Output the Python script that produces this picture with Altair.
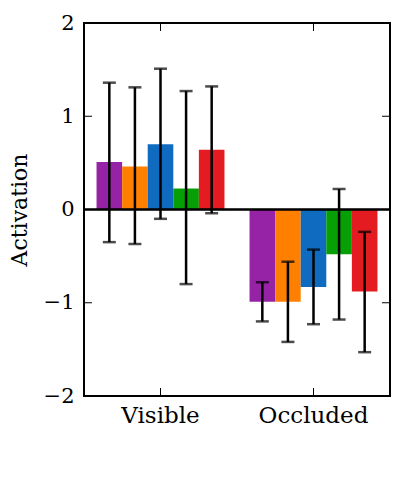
import altair as alt
import pandas as pd

groups = ["Visible", "Occluded"]
series = ["s1", "s2", "s3", "s4", "s5"]
colors = ["#9622a6", "#ff8000", "#0f6bbf", "#06a006", "#e41c21"]

visible_vals = [0.51, 0.46, 0.70, 0.225, 0.64]
visible_lo = [-0.35, -0.37, -0.10, -0.80, -0.04]
visible_hi = [1.36, 1.31, 1.51, 1.27, 1.32]

occluded_vals = [-0.99, -0.99, -0.83, -0.48, -0.88]
occluded_lo = [-1.20, -1.42, -1.23, -1.18, -1.53]
occluded_hi = [-0.78, -0.56, -0.43, 0.22, -0.24]

y_ticks = [-2, -1, 0, 1, 2]

rows = []
for g, vals, los, his in [("Visible", visible_vals, visible_lo, visible_hi),
                          ("Occluded", occluded_vals, occluded_lo, occluded_hi)]:
    for s, v, lo, hi in zip(series, vals, los, his):
        rows.append({"group": g, "series": s, "value": v, "lo": lo, "hi": hi})
df = pd.DataFrame(rows)
ticks_df = pd.DataFrame({"t": y_ticks})
groups_df = pd.DataFrame({"group": groups})

W, H = 306, 373
FONT = "DejaVu Serif"

x_enc = alt.X("group:N", sort=groups,
              scale=alt.Scale(paddingInner=0, paddingOuter=0),
              axis=alt.Axis(title=None, labelAngle=0, labelPadding=8,
                            labelFontSize=23))
xo_enc = alt.XOffset("series:N", sort=series,
                     scale=alt.Scale(paddingInner=0, paddingOuter=0.49))
y_scale = alt.Scale(domain=[-2, 2], nice=False, zero=False)

base = alt.Chart(df)

bars = base.mark_bar().encode(
    x=x_enc,
    xOffset=xo_enc,
    y=alt.Y("value:Q", scale=y_scale,
            axis=alt.Axis(title="Activation", values=y_ticks, format="d",
                          labelPadding=10, titlePadding=12, labelFontSize=21,
                          titleFontSize=22, titleFontWeight="normal")),
    color=alt.Color("series:N", scale=alt.Scale(domain=series, range=colors),
                    legend=None),
)

zero = alt.Chart(ticks_df).mark_rule(color="black", strokeWidth=1.5).encode(
    y=alt.datum(0)
)

err = base.mark_rule(color="black", strokeWidth=2.5).encode(
    x=alt.X("group:N", sort=groups),
    xOffset=alt.XOffset("series:N", sort=series),
    y=alt.Y("lo:Q", scale=y_scale),
    y2="hi:Q",
)
cap_lo = base.mark_tick(color="black", size=13, thickness=2.5).encode(
    x=alt.X("group:N", sort=groups),
    xOffset=alt.XOffset("series:N", sort=series),
    y=alt.Y("lo:Q", scale=y_scale),
)
cap_hi = base.mark_tick(color="black", size=13, thickness=2.5).encode(
    x=alt.X("group:N", sort=groups),
    xOffset=alt.XOffset("series:N", sort=series),
    y=alt.Y("hi:Q", scale=y_scale),
)

ytick_l = alt.Chart(ticks_df).mark_rule(color="black", strokeWidth=1).encode(
    y=alt.Y("t:Q", scale=y_scale), x=alt.value(0), x2=alt.value(8))
ytick_r = alt.Chart(ticks_df).mark_rule(color="black", strokeWidth=1).encode(
    y=alt.Y("t:Q", scale=y_scale), x=alt.value(W - 8), x2=alt.value(W))
xtick_t = alt.Chart(groups_df).mark_rule(color="black", strokeWidth=1).encode(
    x=alt.X("group:N", sort=groups), y=alt.value(0), y2=alt.value(8))
xtick_b = alt.Chart(groups_df).mark_rule(color="black", strokeWidth=1).encode(
    x=alt.X("group:N", sort=groups), y=alt.value(H - 8), y2=alt.value(H))

chart = alt.layer(
    bars, zero, err, cap_lo, cap_hi, ytick_l, ytick_r, xtick_t, xtick_b
).properties(
    width=W, height=H,
    autosize=alt.AutoSizeParams(type="none"),
    padding={"left": 76, "top": 15, "right": 1, "bottom": 60},
).configure_axis(
    labelFont=FONT, titleFont=FONT, labelColor="black", titleColor="black",
    ticks=False, domain=False, grid=False,
).configure_view(
    stroke="black", strokeWidth=2
)

chart.save("out.html", embed_options={"renderer": "svg", "actions": False})
